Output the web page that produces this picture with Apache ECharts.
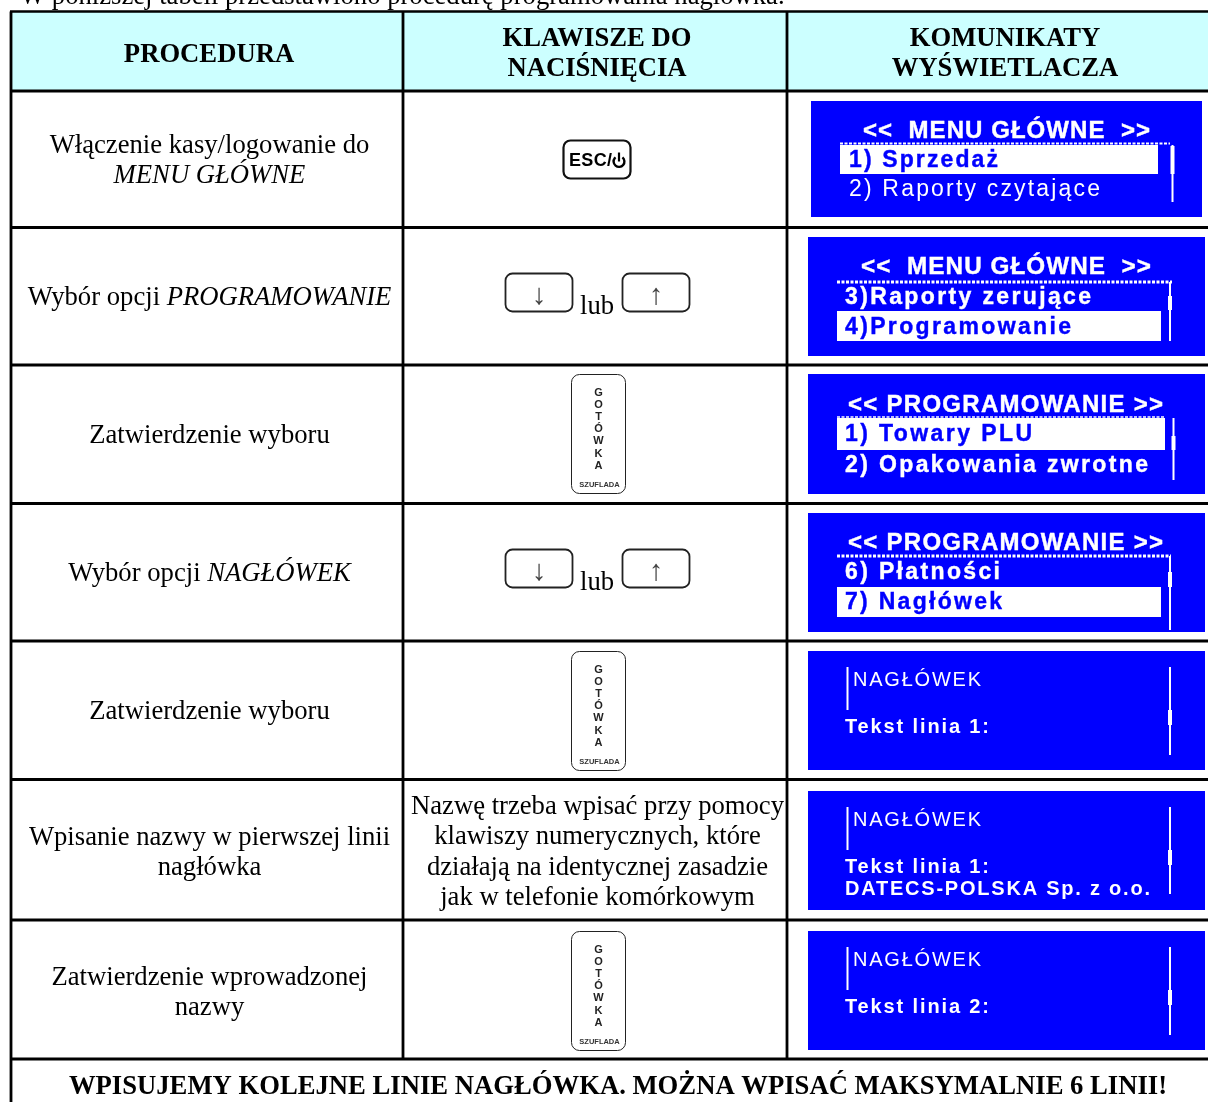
<!DOCTYPE html>
<html><head><meta charset="utf-8">
<style>html,body{margin:0;padding:0;background:#fff}#c{width:1208px;height:1102px}</style>
<script src="https://cdn.jsdelivr.net/npm/echarts@6/dist/echarts.min.js"></script>
</head><body><div id="c"></div>
<script>
const introText = 'W poniższej tabeli przedstawiono procedurę programowania nagłówka.';
const headers = [['PROCEDURA'], ['KLAWISZE DO', 'NACIŚNIĘCIA'], ['KOMUNIKATY', 'WYŚWIETLACZA']];
const procedures = [
  ['Włączenie kasy/logowanie do', '{i|MENU GŁÓWNE}'],
  ['Wybór opcji {i|PROGRAMOWANIE}'],
  ['Zatwierdzenie wyboru'],
  ['Wybór opcji {i|NAGŁÓWEK}'],
  ['Zatwierdzenie wyboru'],
  ['Wpisanie nazwy w pierwszej linii', 'nagłówka'],
  ['Zatwierdzenie wprowadzonej', 'nazwy']
];
const entryNote = ['Nazwę trzeba wpisać przy pomocy', 'klawiszy numerycznych, które', 'działają na identycznej zasadzie', 'jak w telefonie komórkowym'];
const footerText = 'WPISUJEMY KOLEJNE LINIE NAGŁÓWKA. MOŻNA WPISAĆ MAKSYMALNIE 6 LINII!';
const cashLetters = ['G', 'O', 'T', 'Ó', 'W', 'K', 'A'];
const cashCaption = 'SZUFLADA';
const escLabel = 'ESC/';
const arrowDown = '↓';
const arrowUp = '↑';
const orWord = 'lub';
const menuTitle = '<<  MENU GŁÓWNE  >>';
const progTitle = '<< PROGRAMOWANIE >>';
const headTitle = 'NAGŁÓWEK';
const screenLines = {
  s1: ['1) Sprzedaż', '2) Raporty czytające'],
  s2: ['3)Raporty zerujące', '4)Programowanie'],
  s3: ['1) Towary PLU', '2) Opakowania zwrotne'],
  s4: ['6) Płatności', '7) Nagłówek'],
  s5: ['Tekst linia 1:'],
  s6: ['Tekst linia 1:', 'DATECS-POLSKA Sp. z o.o.'],
  s7: ['Tekst linia 2:']
};

const SERIF = '"Liberation Serif"', SANS = '"Liberation Sans"';
const BLUE = '#0000ff', W = '#ffffff', K = '#000000';
const els = [];
const meas = document.createElement('canvas').getContext('2d');

// the LCD text in the reference is letter-spaced; ECharts text has no such style, so the canvas gets it per string
const tracking = {};
const proto = CanvasRenderingContext2D.prototype;
['fillText', 'strokeText'].forEach(name => {
  const plain = proto[name];
  proto[name] = function (s, x, y) {
    const t = tracking[s];
    if (t === undefined || !this.font.includes('Liberation Sans')) return plain.call(this, s, x, y);
    this.letterSpacing = t + 'px';
    plain.call(this, s, x, y);
    this.letterSpacing = '0px';
  };
});

const rect = (x, y, w, h, fill, extra) => els.push({type: 'rect', shape: {x, y, width: w, height: h, r: (extra && extra.r) || 0}, style: Object.assign({fill}, (extra && extra.style) || {}), silent: true});
const line = (x1, y1, x2, y2, stroke, lw, dash) => els.push({type: 'line', shape: {x1, y1, x2, y2}, style: {stroke, lineWidth: lw, lineDash: dash || null}, silent: true});
const text = (s, x, y, font, fill, align, rich) => els.push({type: 'text', x, y, silent: true, style: {text: s, font, fill: fill, align: align || 'center', verticalAlign: 'middle', rich: rich || undefined}});
function fit(s, x0, x1, yc, size, bold, fill, heavy) {
  const font = (bold ? 'bold ' : '') + size + 'px ' + SANS;
  meas.font = font;
  const w = meas.measureText(s).width;
  if (tracking[s] === undefined) tracking[s] = (x1 - x0 - w) / (s.length - 1);
  const drawn = w + tracking[s] * (s.length - 1);
  els.push({type: 'text', x: x0, y: yc + 1, scaleX: (x1 - x0) / drawn, originX: 0, silent: true,
    style: {text: s, font, fill, align: 'left', verticalAlign: 'middle', stroke: heavy ? fill : null, lineWidth: heavy || 0}});
}
const FS = 26.67;
const RICH = {i: {font: 'italic ' + FS + 'px ' + SERIF, fill: K}};

text(introText, 20, -3, FS + 'px ' + SERIF, K, 'left');

rect(11, 12, 1197, 79, '#ccffff');
const H = [91, 227.5, 365, 503.5, 641, 779.5, 920, 1059];
const TOP = 11.5;
line(10, TOP, 1208, TOP, K, 2.5);
H.forEach(y => line(10, y, 1208, y, K, 2.8));
line(11, TOP, 11, 1102, K, 2.8);
[403, 787].forEach(x => line(x, TOP, x, 1059, K, 2.8));

const hf = 'bold ' + FS + 'px ' + SERIF, HX = [209, 597, 1005];
text(headers[0][0], HX[0], 55, hf, K);
[1, 2].forEach(c => { text(headers[c][0], HX[c], 39, hf, K); text(headers[c][1], HX[c], 69, hf, K); });

const pf = FS + 'px ' + SERIF;
const procY = [[146, 176], [298], [436], [574], [712], [838, 868], [978, 1008]];
procedures.forEach((p, r) => p.forEach((t, i) => text(t, 209.5, procY[r][i], pf, K, 'center', RICH)));

const noteY = [807, 837, 868, 898];
entryNote.forEach((t, i) => text(t, 597.5, noteY[i], pf, K));
text(footerText, 618, 1087, hf, K);

const keyStyle = {stroke: '#222', lineWidth: 1.8};
rect(563.5, 140.5, 67, 38, W, {r: 7, style: {stroke: '#111', lineWidth: 2.2}});
fit(escLabel, 569, 612, 160, 18, true, K);
els.push({type: 'arc', shape: {cx: 619, cy: 161.5, r: 5.4, startAngle: -Math.PI * 0.28, endAngle: -Math.PI * 0.72, clockwise: true}, style: {stroke: K, lineWidth: 2.4, fill: null}, silent: true});
line(619, 152.5, 619, 161.5, K, 2.2);
[273, 549].forEach(y => {
  rect(505.5, y + .5, 67, 38, W, {r: 7, style: keyStyle});
  rect(622.5, y + .5, 67, 38, W, {r: 7, style: keyStyle});
  text(arrowDown, 539, y + 23, '29px ' + SERIF, '#444');
  text(arrowUp, 656, y + 23, '29px ' + SERIF, '#444');
  text(orWord, 580, y + 34, pf, K, 'left');
});
[374, 651, 931].forEach(y => {
  rect(571.5, y + .5, 54, 119, W, {r: 8, style: {stroke: '#222', lineWidth: 1}});
  cashLetters.forEach((l, i) => text(l, 598.5, y + 18.5 + i * 12.2, 'bold 11px ' + SANS, '#222'));
  text(cashCaption, 599.5, y + 111, 'bold 7.5px ' + SANS, '#333');
});

function screen(x, y, w, h) { rect(x, y, w, h, BLUE); }
function scroll(x, y0, y1, ty0, ty1) {
  line(x, y0, x, y1, W, 2);
  line(x, ty0, x, ty1, W, 4);
}
const dots = [3, 1.5];
const TSZ = 24, BSZ = 23, HSZ = 20, HV = 0.4;

screen(811, 101, 391, 116);
fit(menuTitle, 863, 1150, 130, TSZ, true, W, HV);
line(840, 143.5, 1170, 143.5, W, 2, dots);
rect(840, 145, 318, 29, W);
fit(screenLines.s1[0], 849, 998, 160, BSZ, true, BLUE, HV);
fit(screenLines.s1[1], 849, 1100, 189, BSZ, false, W);
scroll(1172.5, 145, 202, 146, 174);

screen(808, 237, 397, 119);
fit(menuTitle, 861, 1151, 266, TSZ, true, W, HV);
line(837, 282, 1172, 282, W, 3, dots);
fit(screenLines.s2[0], 845, 1091, 297, BSZ, true, W, HV);
rect(837, 311, 324, 30, W);
fit(screenLines.s2[1], 845, 1071, 327, BSZ, true, BLUE, HV);
scroll(1170, 282, 341, 296, 310);

screen(808, 374, 397, 120);
fit(progTitle, 848, 1163, 404, TSZ, true, W, HV);
line(837, 417, 1165, 417, W, 1.5, dots);
rect(837, 418, 328, 32, W);
fit(screenLines.s3[0], 845, 1032, 434, BSZ, true, BLUE, HV);
fit(screenLines.s3[1], 845, 1148, 465, BSZ, true, W, HV);
scroll(1173.5, 418, 480, 436, 450);

screen(808, 513, 397, 119);
fit(progTitle, 848, 1163, 542, TSZ, true, W, HV);
line(837, 556, 1171, 556, W, 3, dots);
fit(screenLines.s4[0], 845, 1000, 572, BSZ, true, W, HV);
rect(837, 587, 324, 30, W);
fit(screenLines.s4[1], 845, 1002, 602, BSZ, true, BLUE, HV);
scroll(1170, 556, 630, 572, 587);

function headScreen(y, lines) {
  screen(808, y, 397, 119);
  line(847.5, y + 16, 847.5, y + 59, W, 2);
  fit(headTitle, 853, 981, y + 28, HSZ, false, W);
  fit(lines[0], 845, 989, y + 75, HSZ, true, W);
  if (lines[1]) fit(lines[1], 845, 1150, y + 97, HSZ, true, W);
  scroll(1170, y + 16, y + (lines[1] ? 103 : 104), y + 59, y + 74);
}
headScreen(651, screenLines.s5);
headScreen(791, screenLines.s6);
headScreen(931, screenLines.s7);

const chart = echarts.init(document.getElementById('c'), null, {renderer: 'canvas', width: 1208, height: 1102});
chart.setOption({animation: false, backgroundColor: '#fff', graphic: {elements: els}});
</script></body></html>
